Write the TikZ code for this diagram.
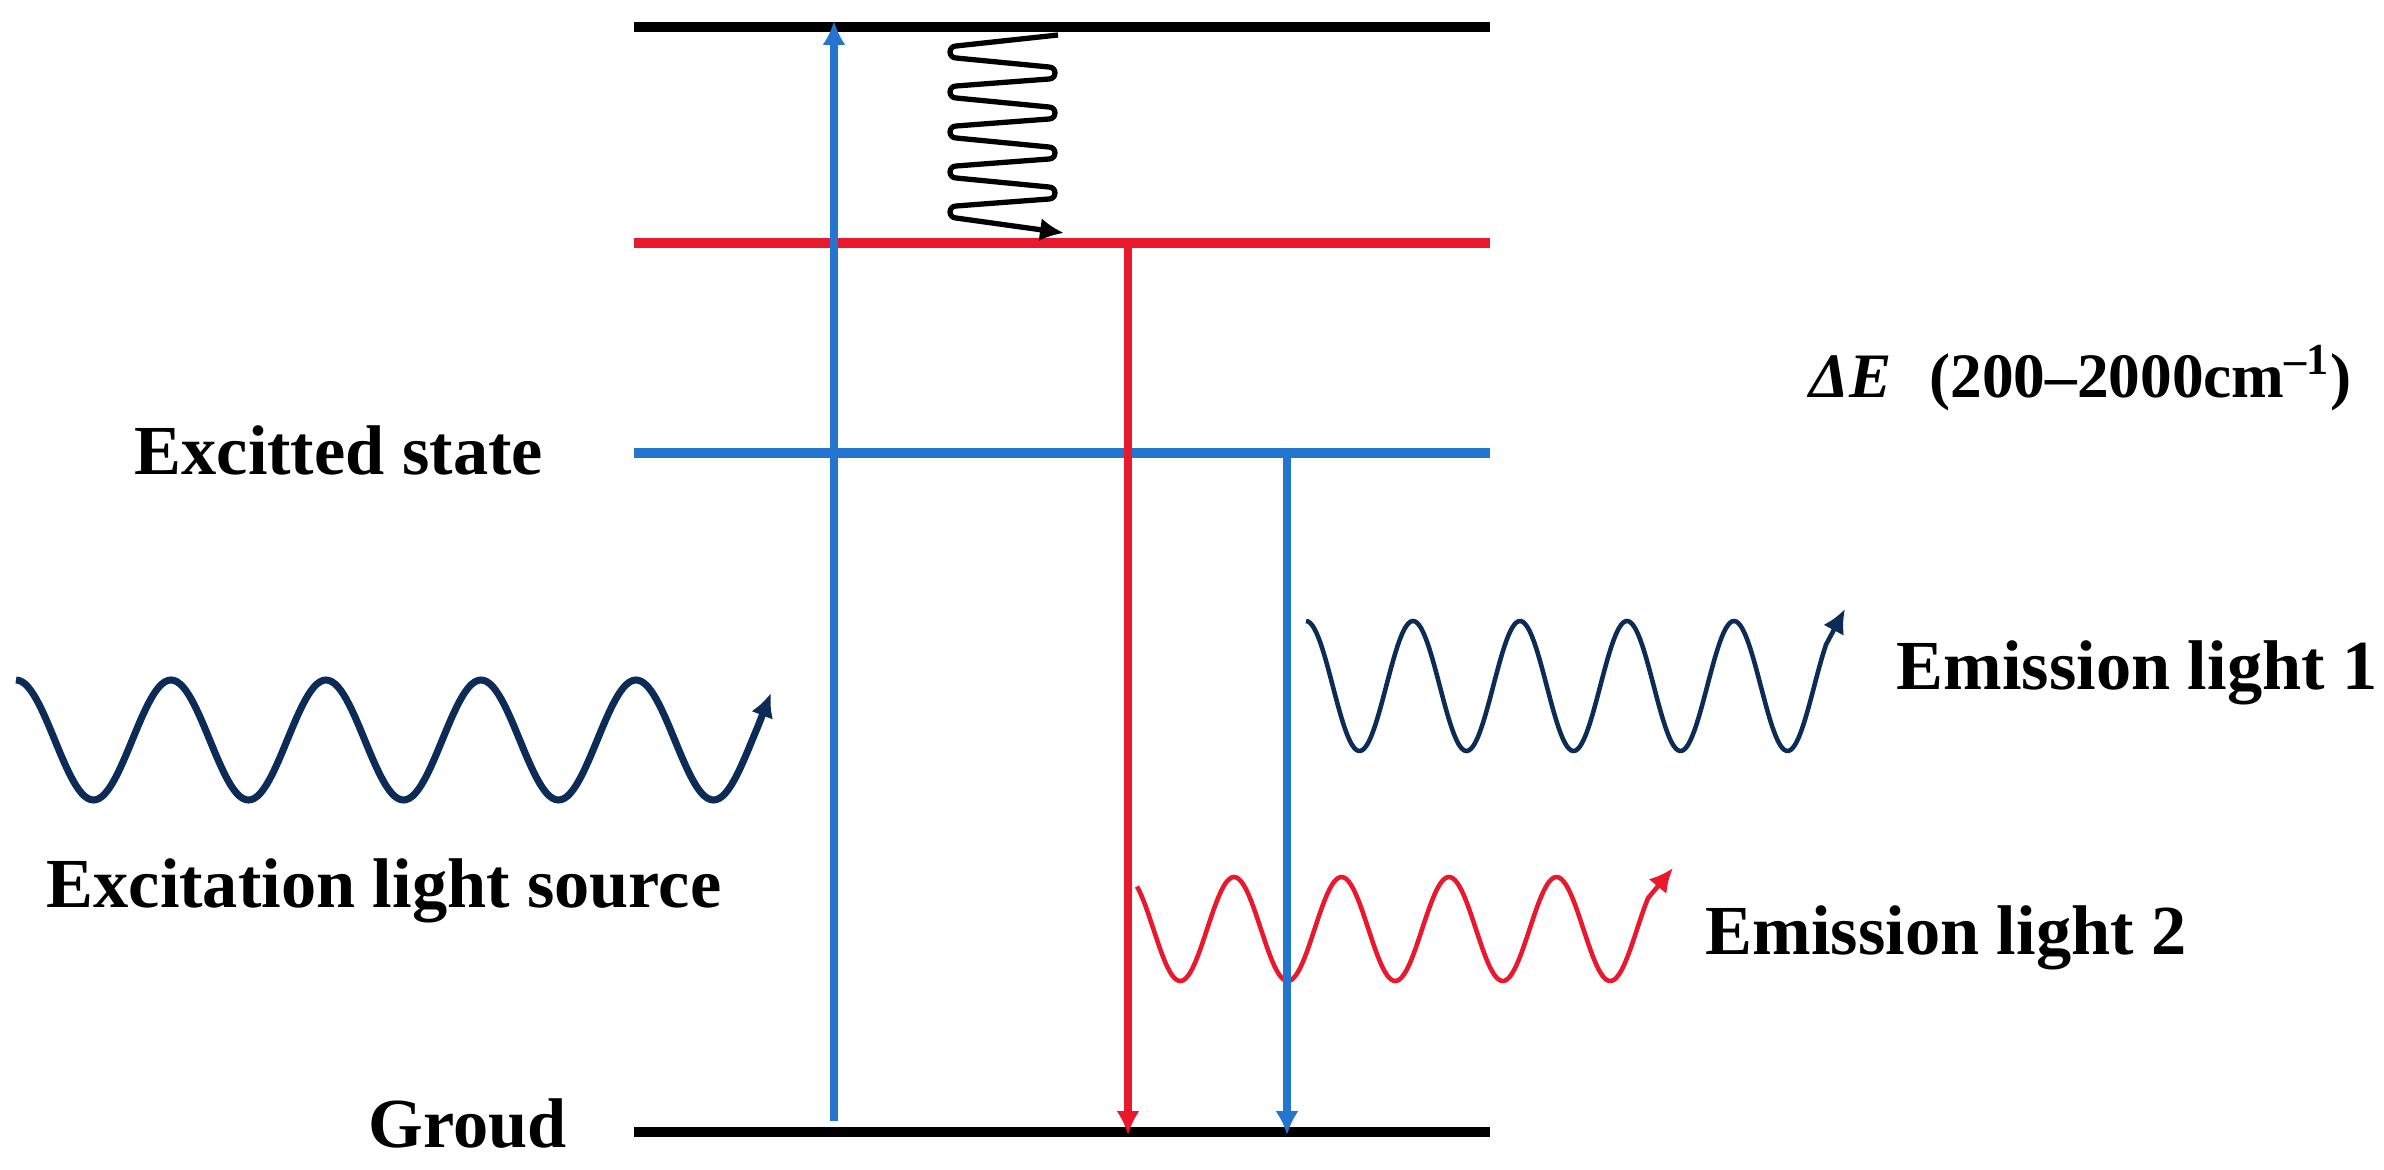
\documentclass[tikz,border=0pt]{standalone}
\usepackage{fontspec}
\setmainfont{Liberation Serif}
\usetikzlibrary{calc,arrows,arrows.meta}
\definecolor{lvlblue}{RGB}{36,117,208}
\definecolor{lvlred}{RGB}{233,25,45}
\definecolor{navy}{RGB}{12,43,86}
\tikzset{
>={Latex[length=6.8pt,width=6.6pt]},
  lvl/.style={draw, line width=2.7pt},
  trans/.style={draw, line width=2.2pt, ->},
  wave/.style={draw, line width=1.3pt, ->},
  squig/.style={draw, line width=1.5pt, ->},
  txt/.style={inner sep=0pt, anchor=base west,
    font=\fontsize{20}{24}\selectfont\bfseries},
}
\begin{document}
\begin{tikzpicture}[x=0.01cm, y=-0.01cm]
  \useasboundingbox (0,0) rectangle (2384,1170);
  % energy levels
  \coordinate (s2w) at (634,27);   \coordinate (s2e) at (1490,27);
  \coordinate (s1w) at (634,243);  \coordinate (s1e) at (1490,243);
  \coordinate (exw) at (634,453);  \coordinate (exe) at (1490,453);
  \coordinate (grw) at (634,1132); \coordinate (gre) at (1490,1132);
  \draw[lvl] (s2w) -- (s2e);
  \draw[lvl, lvlred] (s1w) -- (s1e);
  \draw[lvl, lvlblue] (exw) -- (exe);
  \draw[lvl] (grw) -- (gre);

  % waves
  \coordinate (srctip) at (771,693);
  \coordinate (em1tip) at (1845,609);
  \coordinate (em2tip) at (1673,868);
  \draw[wave, navy, line width=2pt] plot[domain=16:758, samples=250]
    (\x, {740-60*cos((\x-16)/155*360)}) -- (srctip);
  \draw[wave, navy] plot[domain=1306:1826, samples=250]
    (\x, {686-65*cos((\x-1306)/107*360)}) -- (em1tip);
  \draw[wave, lvlred] plot[domain=1137:1648, samples=250]
    (\x, {929-52*cos((\x-1126.5)/107.5*360)}) -- (em2tip);
  \coordinate (relax) at (1064,233);
  \draw[squig] (1058,35) foreach \k in {0,...,3} {
      -- (956,{46+40*\k}) arc[start angle=270, end angle=90, radius=6]
      -- (1049,{67+40*\k}) arc[start angle=270, end angle=450, radius=6] }
    -- (956,206) arc[start angle=270, end angle=90, radius=6] -- (relax);

  % transitions
  \coordinate (absb) at (834,1121); \coordinate (abst) at (834,21);
  \coordinate (fl2t) at (1128,243); \coordinate (fl2b) at (1128,1135);
  \coordinate (fl1t) at (1287,453); \coordinate (fl1b) at (1287,1135);
  \draw[trans, lvlblue] (absb) -- (abst);
  \draw[trans, lvlred] (fl2t) -- (fl2b);
  \draw[trans, lvlblue] (fl1t) -- (fl1b);

  % labels
  \node[txt] (excited) at (134,475) {Excitted state};
  \node[txt] (source) at (46,907) {Excitation light source};
  \node[txt] (ground) at (368,1147) {Groud};
  \node[txt] (emis1) at (1896,689) {Emission light 1};
  \node[txt] (emis2) at (1705,954) {Emission light 2};
  \node[txt, font=\fontsize{18}{22}\selectfont\bfseries] (gap) at (1809,397)
    {\textit{ΔE}\hspace{0.6em}(200–2000cm\textsuperscript{–1})};
\end{tikzpicture}
\end{document}
